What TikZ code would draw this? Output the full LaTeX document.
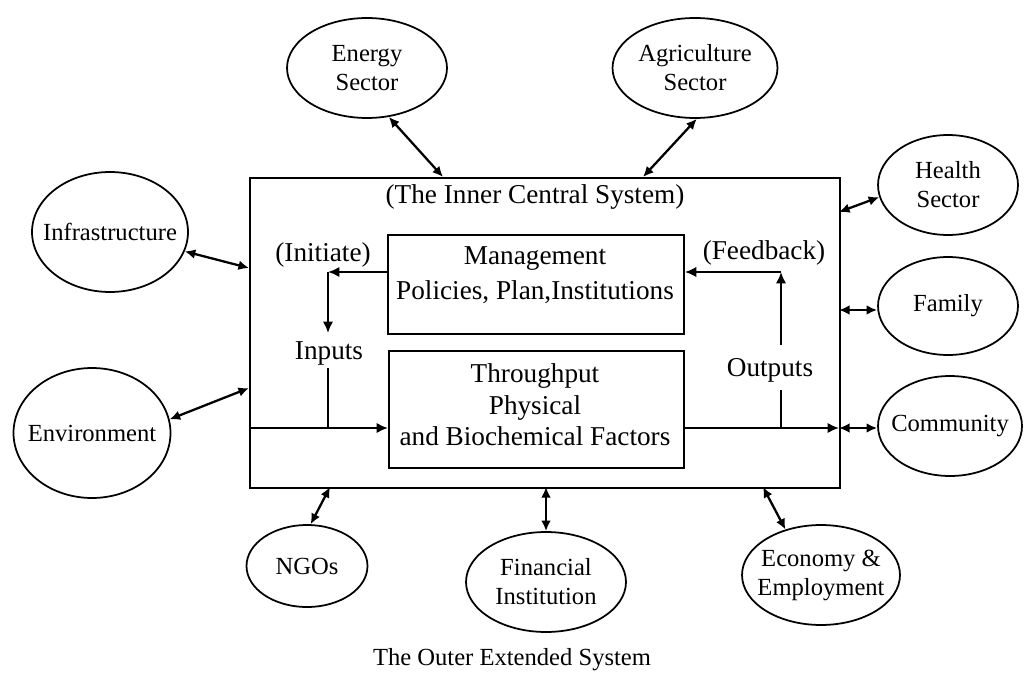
\documentclass[tikz,border=0pt]{standalone}
\usepackage{fontspec}
\setmainfont{Liberation Serif}
\usetikzlibrary{shapes.geometric,arrows.meta}
\begin{document}
\begin{tikzpicture}[x=0.02cm,y=-0.02cm,
  oval/.style={ellipse,draw,line width=1pt,inner sep=0pt},
  otext/.style={align=center,font=\fontsize{14}{16.5}\selectfont,inner sep=0pt},
  itext/.style={align=center,font=\fontsize{15.5}{18}\selectfont,inner sep=0pt},
  boxline/.style={rectangle,draw,line width=1.1pt,inner sep=0pt,anchor=north west},
  link/.style={line width=1.3pt,{Latex[length=6pt,width=5.5pt]}-{Latex[length=6pt,width=5.5pt]}},
  flow/.style={line width=1.3pt,-{Latex[length=6.5pt,width=6pt]}},
  plain/.style={line width=1.3pt}]
\path[use as bounding box] (0,0) rectangle (1026,682);

% boxes
\node[boxline,minimum width=11.8cm,minimum height=6.2cm] (outer) at (249,177) {};
\node[boxline,minimum width=5.92cm,minimum height=1.98cm] (mgmt) at (387,234) {};
\node[boxline,minimum width=5.9cm,minimum height=2.34cm] (thr) at (388,350) {};

\node[itext] (inner) at (535,197) {(The Inner Central System)};
\node[itext,font=\fontsize{15.5}{20}\selectfont] (mgmtt) at (535,275) {Management\\Policies, Plan,Institutions};
\node[itext] (thrt) at (535,405) {Throughput\\Physical\\and Biochemical Factors};

% ellipses
\node[oval,minimum width=3.2cm,minimum height=2.0cm] (energy) at (367,68) {};
\node[otext] (energyt) at (energy) {Energy\\Sector};
\node[oval,minimum width=3.3cm,minimum height=2.0cm] (agri) at (695,68) {};
\node[otext] (agrit) at (agri) {Agriculture\\Sector};
\node[oval,minimum width=2.8cm,minimum height=2.0cm] (health) at (948,185) {};
\node[otext] (healtht) at (health) {Health\\Sector};
\node[oval,minimum width=2.8cm,minimum height=1.96cm] (family) at (948,306) {};
\node[otext] (familyt) at (family) {Family};
\node[oval,minimum width=2.88cm,minimum height=2.0cm] (comm) at (950,426) {};
\node[otext] (commt) at (comm) {Community};
\node[oval,minimum width=3.12cm,minimum height=2.4cm] (infra) at (110,232) {};
\node[otext] (infrat) at (infra) {Infrastructure};
\node[oval,minimum width=3.14cm,minimum height=2.6cm] (env) at (92,433) {};
\node[otext] (envt) at (env) {Environment};
\node[oval,minimum width=2.42cm,minimum height=1.64cm] (ngo) at (307,566) {};
\node[otext] (ngot) at (ngo) {NGOs};
\node[oval,minimum width=3.2cm,minimum height=2.0cm] (fin) at (546,582) {};
\node[otext] (fint) at (fin) {Financial\\Institution};
\node[oval,minimum width=3.16cm,minimum height=2.0cm] (econ) at (821,575) {};
\node[otext] (econt) at (econ) {Economy \&\\Employment};

% outer links
\coordinate (pE) at (443,177);
\coordinate (pA) at (643,177);
\coordinate (pH) at (839,212);
\coordinate (pF) at (839,310);
\coordinate (pC) at (839,428);
\coordinate (pI) at (249,268);
\coordinate (pV) at (249,388);
\coordinate (pN) at (330,487);
\coordinate (pFi) at (546,487);
\coordinate (pEc) at (763,487);
\draw[link] (energy.-66) -- (pE);
\draw[link] (agri.-88) -- (pA);
\draw[link] (health.190) -- (pH);
\draw[link] (pF) -- (pF -| family.west);
\draw[link] (pC) -- (pC -| comm.west);
\draw[link] (infra) -- (pI);
\draw[link] (env.10) -- (pV);
\draw[link] (ngo.85) -- (pN);
\draw[link] (fin.north) -- (pFi);
\draw[link] (econ.128) -- (pEc);

% inner flows
\coordinate (fl) at (249,428);
\coordinate (fr) at (839,428);
\draw[flow] (fl) -- (fl -| thr.west);
\draw[flow] (fr -| thr.east) -- (fr);

\node[itext] (initiate) at (323,255) {(Initiate)};
\node[itext] (inputs) at (329,353) {Inputs};
\coordinate (ic) at (328,272);
\coordinate (id) at (328,333);
\coordinate (iu) at (328,368);
\draw[flow] (ic -| mgmt.west) -- (ic);
\draw[flow] (ic) -- (id);
\draw[plain] (iu) -- (iu |- fl);

\node[itext] (feedback) at (764,253) {(Feedback)};
\node[itext] (outputs) at (770,370) {Outputs};
\coordinate (oc) at (781,272);
\coordinate (ou) at (781,345);
\coordinate (ol) at (781,390);
\draw[plain] (ol |- fl) -- (ol);
\draw[flow] (ou) -- (oc);
\draw[flow] (oc) -- (oc -| mgmt.east);

\node[otext] (caption) at (512,660) {The Outer Extended System};
\end{tikzpicture}
\end{document}
